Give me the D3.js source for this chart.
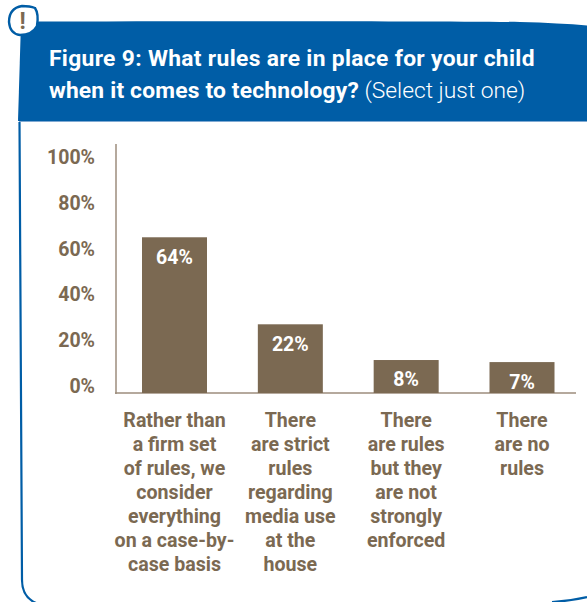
<!DOCTYPE html>
<html><head><meta charset="utf-8">
<script src="https://cdn.jsdelivr.net/npm/d3@7/dist/d3.min.js"></script>
<style>html,body{margin:0;padding:0;background:#fff}svg{display:block}text{font-family:Roboto,sans-serif}</style>
</head><body><div id="c"></div>
<script>
const categories = ["c1","c2","c3","c4"];
const categoryLines = [
  ["Rather than","a firm set","of rules, we","consider","everything","on a case-by-","case basis"],
  ["There","are strict","rules","regarding","media use","at the","house"],
  ["There","are rules","but they","are not","strongly","enforced"],
  ["There","are no","rules"]
];
const valueLabels = [64,22,8,7];
const barLevels = [68,30,14.4,13.5];
const tickValues = [0,20,40,60,80,100];
const blue="#005da6", brown="#7b6952", axisCol="#9c8d7d";

const svg=d3.select("#c").append("svg").attr("width",587).attr("height",602);
const y=d3.scaleLinear().domain([0,100]).range([393,164]);
const x=d3.scalePoint().domain(categories).range([174.5,522]);
const xc=d=>x(d);
const barW=65;

// outer frame
svg.append("path").attr("d","M19.5 122 L22 580 Q22 597 36 603 M552 602 Q570 601 587 597").attr("fill","none").attr("stroke",blue).attr("stroke-width",2.2);
// header
svg.append("path").attr("d","M21 21.5 C200 21 440 21 520 22 Q560 23 587 25.5 L587 121 L18 121 Z").attr("fill",blue);
svg.append("line").attr("x1",19).attr("x2",587).attr("y1",121.5).attr("y2",121.5).attr("stroke","#7fa9d2").attr("stroke-width",1);
// badge
svg.append("path").attr("d","M22 6 Q30 6 35 8 Q39 14 37 26 Q32 35 20 35 Q10 34 9 22 Q9 8 22 6 Z").attr("fill","#fff").attr("stroke",blue).attr("stroke-width",2.4);
svg.append("text").attr("x",22.5).attr("y",29).attr("text-anchor","middle").attr("font-size",23).attr("font-weight",700).attr("fill",brown).text("!");

// title
svg.append("text").attr("x",49).attr("y",66).attr("fill","#fff").attr("font-size",22.8).attr("letter-spacing",0.33).attr("font-weight",700).text("Figure 9: What rules are in place for your child");
const t2=svg.append("text").attr("x",49).attr("y",98).attr("fill","#fff").attr("font-size",22.8);
t2.append("tspan").attr("font-weight",700).attr("letter-spacing",0.18).text("when it comes to technology?");
t2.append("tspan").attr("font-weight",300).text(" (Select just one)");

// axes
svg.append("line").attr("x1",116).attr("x2",116).attr("y1",144).attr("y2",394).attr("stroke",axisCol).attr("stroke-width",1.5);
svg.append("line").attr("x1",115).attr("x2",576).attr("y1",393).attr("y2",393).attr("stroke",axisCol).attr("stroke-width",1.5);
svg.selectAll(".yt").data(tickValues).join("text").attr("class","yt")
  .attr("x",95).attr("y",d=>y(d)-7).attr("dy","0.36em").attr("text-anchor","end")
  .attr("font-size",19.5).attr("font-weight",700).attr("fill",brown).text(d=>d+"%");

// bars
svg.selectAll(".bar").data(categories).join("rect").attr("class","bar")
  .attr("x",d=>xc(d)-barW/2).attr("width",barW)
  .attr("y",(d,i)=>y(barLevels[i])).attr("height",(d,i)=>y(0)-y(barLevels[i])).attr("fill",brown);
svg.selectAll(".val").data(categories).join("text").attr("class","val")
  .attr("x",d=>xc(d)).attr("y",(d,i)=>y(barLevels[i])+19.4).attr("dy","0.36em").attr("text-anchor","middle")
  .attr("font-size",19.5).attr("font-weight",700).attr("fill","#fff").text((d,i)=>valueLabels[i]+"%");

// category labels
categories.forEach((c,i)=>{
  svg.append("g").selectAll("text").data(categoryLines[i]).join("text")
    .attr("x",xc(c)).attr("y",(d,j)=>419.5+24*j).attr("dy","0.36em").attr("text-anchor","middle")
    .attr("font-size",19.6).attr("font-weight",700).attr("fill",brown).text(d=>d);
});
</script></body></html>
